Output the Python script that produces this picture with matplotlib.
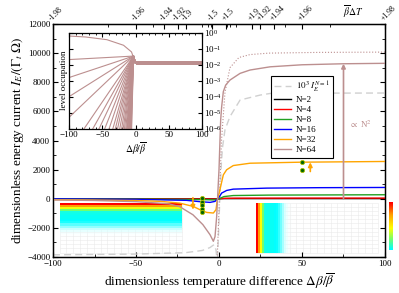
import numpy as np
import matplotlib
matplotlib.use("Agg")
import matplotlib.pyplot as plt
from matplotlib.colors import LinearSegmentedColormap
from matplotlib.ticker import MultipleLocator, FixedLocator, NullFormatter

plt.rcParams['font.family'] = ['Liberation Serif', 'DejaVu Serif']
plt.rcParams['mathtext.fontset'] = 'stix'

# energy current curves (x = dbeta/beta, y = I_E/(Gamma_t Omega))
n2_x = [-100, -50, -10, -3, 0, 3, 10, 50, 100]
n2_y = [-5, -5, -8, -10, 0, 8, 10, 10, 10]

n4_x = [-100, -50, -10, -3, 0, 3, 10, 50, 100]
n4_y = [-15, -15, -20, -25, 0, 30, 40, 45, 45]

n8_x = [-100, -50, -10, -3, 0, 3, 8.6, 30, 100]
n8_y = [-10, -20, -60, -80, 0, 150, 220, 250, 275]

n16_x = [-100, -50, -19.5, -11.5, -5.4, -2.4, -1, 0, 1.6, 4.6, 8.6, 28.8, 60, 100]
n16_y = [-10, -40, -110, -200, -250, -180, -20, 100, 390, 570, 660, 730, 760, 775]

n32_x = [-100, -50, -35, -23.6, -15.5, -11.5, -7.4, -3.4, -1.8, -1, 0, 1, 2.6, 4.6, 8.6, 18.7, 49, 100]
n32_y = [-60, -120, -180, -300, -530, -750, -940, -980, -750, -70, 350, 840, 1640, 1990, 2280, 2440, 2510, 2560]

n64_x = [-100, -75, -50, -30, -23.6, -15.7, -9.7, -5.4, -3.4, -2.4, -1.4, -0.4, 0, 1.0, 1.6, 2.6, 4, 6.6, 12.7, 18.7, 30.8, 50, 75, 100]
n64_y = [-80, -120, -200, -350, -550, -1100, -1780, -2470, -2920, -2600, -1210, 1100, 1990, 5400, 6320, 7350, 7800, 8150, 8610, 8840, 9060, 9200, 9270, 9300]

n64_dot_x = [-1.2, 1.5, 3.6, 6.6, 12, 18.7, 30, 60, 100]
n64_dot_y = [-4500, 4000, 7300, 9000, 9700, 9900, 10000, 10050, 10070]

n1_x = [-100, -50, -20, -10, -5.4, -3, -1.8, -1, 0.5, 1.5, 2.2, 3.6, 6.6, 12.7, 24.8, 30.8, 50, 100]
n1_y = [-3850, -3800, -3700, -3550, -3350, -3150, -3500, -4500, 0, 2600, 3600, 4730, 5640, 6780, 7120, 7230, 7250, 7260]

# markers and arrows
dots_right_x = [50, 50]
dots_right_y = [2530, 1990]
dots_left_x = [-10.5] * 5
dots_left_y = [50, -200, -450, -700, -900]
arrow_up = (55, 1870, 2500)
arrow_down = (-15.7, 70, -750)
arrow_n2 = (75, 0, 9270)

# occupation maps (1D profiles, uniform along the other direction)
left_map_rows = [1.0, 0.82, 0.6, 0.45, 0.33, 0.32, 0.31, 0.31, 0.30, 0.28,
                 0.22, 0.17, 0.12, 0.08, 0.05, 0.03, 0.015, 0.01, 0, 0, 0, 0, 0, 0]
right_map_cols = [1.0, 0.82, 0.62, 0.45, 0.33, 0.32, 0.32, 0.31, 0.31, 0.30, 0.29,
                  0.25, 0.2, 0.15, 0.1, 0.07, 0.04, 0.02]

# inset: level occupation (log10)
inset_top_x = [-100, -75, -43, -18, -6, 0, 100]
inset_top_logp = [-0.19, -0.25, -0.42, -0.77, -1.19, -1.9, -1.9]
inset_left_logp = [-1.67, -2.8, -4.0, -5.3]
inset_exit_x = [-82, -68, -58, -49, -42, -36, -32, -28.5, -25, -22, -19.5, -17.5,
                -15.5, -14, -13, -12, -11, -10, -9.5, -9, -8.5, -8, -7.5, -7, -6.5, -6]
inset_knee = (-3, -1.45)
inset_band = (-1.78, -2.02)

c_rb = '#bc8f8f'
fig = plt.figure(figsize=(3.99, 2.93), dpi=100)
ax = fig.add_axes([53/399, 1-257/293, 332/399, 233/293])

cmap = LinearSegmentedColormap.from_list(
    'occ', [(0, (1, 1, 1, 0)), (0.12, (0.78, 1, 1, 1)), (0.3, '#00ffff'), (0.45, '#70ff70'),
            (0.62, '#ffff00'), (0.82, '#ffa000'), (1.0, '#ff0000')])

# faint grid under the maps
for x0, x1 in [(-96, -22), (22, 96)]:
    ax.vlines(np.linspace(x0, x1, 19), -3700, -270, color='#eaeaea', lw=0.4, zorder=0.5)
    ax.hlines(np.linspace(-270, -3700, 13), x0, x1, color='#eaeaea', lw=0.4, zorder=0.5)

left_map = np.tile(np.array(left_map_rows)[:, None], (1, 37))
ax.pcolormesh(np.linspace(-96, -22, 38), np.linspace(-270, -3700, len(left_map_rows) + 1),
              left_map, cmap=cmap, vmin=0, vmax=1, zorder=1)
n_cols = 60
right_vals = np.concatenate([right_map_cols, np.zeros(n_cols - len(right_map_cols))])
right_map = np.tile(right_vals[None, :], (24, 1))
ax.pcolormesh(np.linspace(22, 96, n_cols + 1), np.linspace(-270, -3700, 25),
              right_map, cmap=cmap, vmin=0, vmax=1, zorder=1)

ax.plot(n1_x, n1_y, color='#d0d0d0', lw=1.0, dashes=(5, 3), label=r'$10^3\ I_E^{N=1}$', zorder=2)
ax.plot(n64_dot_x, n64_dot_y, color=c_rb, lw=0.8, ls=':', zorder=2)
ax.plot(n2_x, n2_y, color='black', lw=1.0, label='N=2', zorder=3)
ax.plot(n4_x, n4_y, color='#ff0000', lw=1.0, label='N=4', zorder=3)
ax.plot(n8_x, n8_y, color='#22a022', lw=1.0, label='N=8', zorder=3)
ax.plot(n16_x, n16_y, color='#0000ff', lw=1.0, label='N=16', zorder=3)
ax.plot(n32_x, n32_y, color='#ffa500', lw=1.0, label='N=32', zorder=3)
ax.plot(n64_x, n64_y, color=c_rb, lw=1.0, label='N=64', zorder=3)

ax.plot(dots_right_x, dots_right_y, 'o', ms=3, mfc='#006400', mec='#b0c000', mew=0.6, zorder=4)
ax.plot(dots_left_x, dots_left_y, 'o', ms=3, mfc='#006400', mec='#b0c000', mew=0.6, zorder=4)
for (xa, y0, y1), col in [(arrow_up, '#ffa500'), (arrow_down, '#ffa500'), (arrow_n2, c_rb)]:
    ax.annotate('', xy=(xa, y1), xytext=(xa, y0),
                arrowprops=dict(arrowstyle='-|>', color=col, lw=1.2, mutation_scale=6,
                                shrinkA=0, shrinkB=0), zorder=4)
ax.text(78.5, 5100, r'$\propto$ N$^2$', color=c_rb, fontsize=6.5, va='center')

ax.set_xlim(-100, 100)
ax.set_ylim(-4000, 12000)
ax.xaxis.set_major_locator(MultipleLocator(50))
ax.xaxis.set_minor_locator(MultipleLocator(25))
ax.yaxis.set_major_locator(MultipleLocator(2000))
ax.yaxis.set_minor_locator(MultipleLocator(1000))
ax.tick_params(which='both', direction='in', right=True, top=False, labelsize=6.5, pad=2)
ax.tick_params(which='major', length=3.5)
ax.tick_params(which='minor', length=2)
for s in ax.spines.values():
    s.set_linewidth(1.0)
ax.set_xlabel(r'dimensionless temperature difference $\Delta\beta/\overline{\beta}$', fontsize=9.5, labelpad=3)
ax.set_ylabel(r'dimensionless energy current $I_E/(\Gamma_t\ \Omega)$', fontsize=9.5, labelpad=1)

ax.legend(loc='upper left', bbox_to_anchor=(0.642, 0.795), fontsize=6.5, frameon=True,
          fancybox=False, edgecolor='black', framealpha=1, handlelength=1.8,
          labelspacing=0.18, borderpad=0.4, handletextpad=0.6).get_frame().set_linewidth(0.8)

# top axis in beta_bar * Delta T
top_vals = [-1.98, -1.96, -1.94, -1.92, -1.9, -1.5, 1.5, 1.9, 1.92, 1.94, 1.96, 1.98]
top_labels = ['-1.98', '-1.96', '-1.94', '-1.92', '-1.9', '-1.5',
              '+1.5', '+1.9', '+1.92', '+1.94', '+1.96', '+1.98']
top_minor = [-1.97, -1.95, -1.8, -1.7, -1.6, 1.6, 1.7, 1.8, 1.95, 1.97]

def to_ratio(t):
    t = np.asarray(t)
    return np.sign(t) * 2 / (2 - np.abs(t))

ax_top = ax.twiny()
ax_top.set_xlim(-100, 100)
ax_top.xaxis.set_major_locator(FixedLocator(to_ratio(top_vals)))
ax_top.xaxis.set_minor_locator(FixedLocator(to_ratio(top_minor)))
ax_top.set_xticklabels(top_labels, rotation=45, ha='left', rotation_mode='anchor', fontsize=5.5)
ax_top.tick_params(which='both', direction='in', pad=1.5)
ax_top.tick_params(which='major', length=3.5)
ax_top.tick_params(which='minor', length=2)
ax.text(0.904, 1.035, r'$\overline{\beta}\Delta T$', transform=ax.transAxes, fontsize=7, ha='center')

# inset
ax_in = fig.add_axes([69/399, 1-128.5/293, 133/399, 95.5/293])
ax_in.plot(inset_top_x, 10.0 ** np.array(inset_top_logp), color=c_rb, lw=0.8)
for v in inset_left_logp:
    ax_in.plot([-100, inset_knee[0], 0, 100], 10.0 ** np.array([v, inset_knee[1], -1.9, -1.9]),
               color=c_rb, lw=0.8)
for xe in inset_exit_x:
    ax_in.plot([xe, inset_knee[0], 0, 100], 10.0 ** np.array([-6.3, inset_knee[1], -1.9, -1.9]),
               color=c_rb, lw=0.8)
ax_in.fill_between([0, 100], 10 ** inset_band[1], 10 ** inset_band[0], color=c_rb, lw=0)
ax_in.set_xlim(-100, 100)
ax_in.set_yscale('log')
ax_in.set_ylim(1e-6, 1)
ax_in.xaxis.set_major_locator(MultipleLocator(50))
ax_in.xaxis.set_minor_locator(MultipleLocator(10))
ax_in.yaxis.set_major_locator(FixedLocator([1e-6, 1e-5, 1e-4, 1e-3, 1e-2, 1e-1, 1]))
ax_in.tick_params(which='both', direction='in', top=True, right=True, left=True,
                  labelleft=False, labelright=True, labelsize=6.5, pad=1.5)
ax_in.tick_params(which='major', length=3)
ax_in.tick_params(which='minor', length=1.5)
ax_in.yaxis.set_minor_formatter(NullFormatter())
ax_in.set_xlabel(r'$\Delta\beta/\overline{\beta}$', fontsize=7, labelpad=1)
ax_in.set_ylabel('level occupation', fontsize=6.5, labelpad=1)
ax_in.yaxis.set_label_position('left')
for s in ax_in.spines.values():
    s.set_linewidth(0.9)

# colour bar
cax = fig.add_axes([389/399, 1-250/293, 4/399, 48/293])
cax.imshow(np.linspace(0.3, 1, 50)[:, None], cmap=cmap, vmin=0, vmax=1, aspect='auto', origin='lower')
cax.axis('off')

fig.savefig('out.png', dpi=100)
